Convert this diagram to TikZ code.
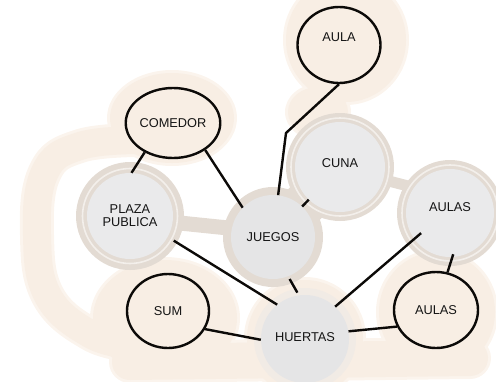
\documentclass[tikz,border=0pt]{standalone}
\usepackage{fontspec}
\setmainfont{Liberation Sans}
\usetikzlibrary{shapes.geometric}
\definecolor{bgB}{RGB}{248,238,228}
\definecolor{bgL}{RGB}{251,244,237}
\definecolor{haloC}{RGB}{227,219,211}
\definecolor{ringC}{RGB}{243,239,235}
\definecolor{grayF}{RGB}{234,234,235}
\definecolor{grayJ}{RGB}{229,229,230}
\definecolor{hHalo}{RGB}{241,235,229}
\definecolor{txtC}{RGB}{20,20,20}
\definecolor{lineC}{RGB}{12,10,8}
\begin{document}
\begin{tikzpicture}[x=1pt,y=-1pt,
  txt/.style={font=\fontsize{12.8}{14}\selectfont, text=txtC, align=center},
  ovalnode/.style={txt, ellipse, draw=lineC, line width=2.4pt, fill=bgB, inner sep=0pt},
  roundnode/.style={txt, circle, fill=grayF, inner sep=0pt},
  link/.style={draw=lineC, line width=2.4pt, line cap=butt},
  softband/.style={line cap=round, line join=round},
]
\useasboundingbox (0,0) rectangle (496,381);
\begin{scope}
\clip (0,0) rectangle (496,381);
% ---------- soft outer beige layer
\fill[bgL] (346,40) ellipse [x radius=63pt, y radius=65pt];
\fill[bgL] (318,112) ellipse [x radius=33pt, y radius=28pt];
\fill[bgL] (172,118) ellipse [x radius=65pt, y radius=48pt];
\draw[bgL, line width=34pt, softband] plot[smooth, tension=0.7] coordinates {(140,140) (80,146) (45,172) (37,235) (48,296) (90,334) (130,345)};
\fill[bgL] (165,318) ellipse [x radius=75pt, y radius=61pt];
\draw[bgL, line width=42pt, softband] (130,362) -- (470,358);
\fill[bgL] (437,312) ellipse [x radius=61pt, y radius=63pt];
\fill[bgL] (305,338) circle [radius=61pt];
% ---------- main beige layer
\fill[bgB] (346,40) ellipse [x radius=60pt, y radius=62pt];
\fill[bgB] (318,112) ellipse [x radius=30pt, y radius=25pt];
\fill[bgB] (172,118) ellipse [x radius=62pt, y radius=45pt];
\draw[bgB, line width=28pt, softband] plot[smooth, tension=0.7] coordinates {(140,140) (80,146) (45,172) (37,235) (48,296) (90,334) (130,345)};
\fill[bgB] (165,318) ellipse [x radius=72pt, y radius=58pt];
\draw[bgB, line width=36pt, softband] (130,362) -- (470,358);
\fill[bgB] (437,312) ellipse [x radius=58pt, y radius=60pt];
\fill[bgB] (305,338) circle [radius=58pt];
% ---------- halos of the grey rooms
\coordinate (cPlaza) at (130,216);
\coordinate (cJuegos) at (273,237);
\coordinate (cCuna) at (340,167);
\coordinate (cAulasR) at (450,213);
\coordinate (cHuertas) at (305,339);
\fill[haloC] (cPlaza) circle [radius=54pt];
\fill[haloC] (cJuegos) circle [radius=50pt];
\fill[haloC] (cCuna) circle [radius=54pt];
\fill[haloC] (cAulasR) circle [radius=53pt];
\draw[haloC, line width=15pt] (170,222) -- (238,229);
\draw[haloC, line width=44pt] (cJuegos) -- (cCuna);
\draw[haloC, line width=11pt] (385,180) -- (408,186);
\fill[hHalo] (cHuertas) circle [radius=51pt];
\draw[ringC, line width=1.6pt] (cPlaza) circle [radius=47.5pt];
\draw[ringC, line width=1.6pt] (cCuna) circle [radius=49pt];
\draw[ringC, line width=1.6pt] (cAulasR) circle [radius=48pt];
\end{scope}
% ---------- rooms
\node[ovalnode, minimum width=83pt, minimum height=76pt, text height=9pt, text depth=16pt] (aula) at (339,45) {AULA};
\node[ovalnode, minimum width=80pt, minimum height=70pt] (comedor) at (173,123) {COMEDOR};
\node[ovalnode, minimum width=82pt, minimum height=74pt] (sum) at (168,311) {SUM};
\node[ovalnode, minimum width=84pt, minimum height=76pt] (aulasB) at (436,310) {AULAS};
\node[roundnode, minimum size=86pt] (plaza) at (cPlaza) {PLAZA\\[-1pt]PUBLICA};
\node[roundnode, fill=grayJ, minimum size=84pt] (juegos) at (cJuegos) {JUEGOS};
\node[roundnode, minimum size=90pt, text height=9pt, text depth=8pt] (cuna) at (cCuna) {CUNA};
\node[roundnode, minimum size=88pt, text height=9pt, text depth=12pt] (aulasR) at (cAulasR) {AULAS};
\node[roundnode, fill=grayJ, minimum size=88pt, text height=9pt, text depth=5pt] (huertas) at (cHuertas) {HUERTAS};
\coordinate (bend) at (286,133);
% ---------- connectors
\draw[link] (comedor.-134) -- (plaza.88);
\draw[link] (comedor.-40) -- (juegos.136);
\draw[link, line join=miter] (aula.-90) -- (bend) -- (juegos.83);
\draw[link] (cuna) -- (juegos);
\draw[link, shorten <=7pt] (plaza.-29) -- (huertas.129);
\draw[link, shorten <=3pt, shorten >=3pt] (juegos.-69) -- (huertas.98);
\draw[link, shorten <=-9pt] (aulasR.-144) -- (huertas.47);
\draw[link, shorten <=-3pt] (aulasR.-87) -- (aulasB.73);
\draw[link] (sum.-26) -- (huertas.181);
\draw[link] (huertas.10) -- (aulasB.203);
\end{tikzpicture}
\end{document}
